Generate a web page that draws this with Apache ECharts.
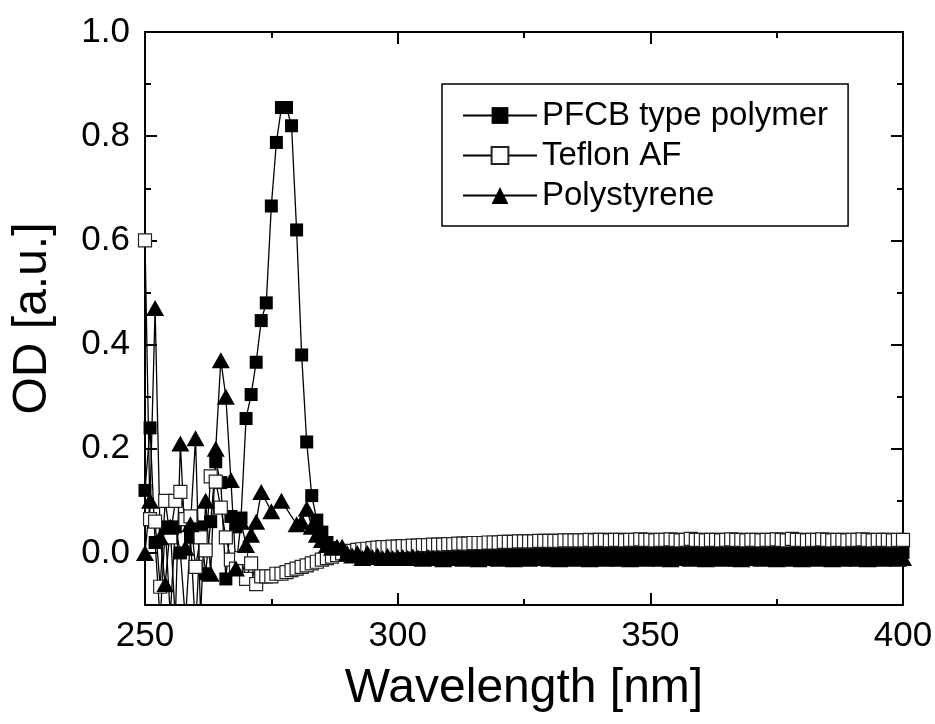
<!DOCTYPE html>
<html>
<head>
<meta charset="UTF-8">
<title>OD spectra</title>
<script src="https://cdn.jsdelivr.net/npm/echarts@6/dist/echarts.min.js"></script>
<style>
  body { margin: 0; background: #fff; }
  #chart { width: 935px; height: 724px; }
</style>
</head>
<body>
<div id="chart"></div>
<script>
// sampling grid: 250 .. 400 nm, 1 nm steps
const WL_START = 250, WL_END = 400;
const wavelengths = [];
for (let w = WL_START; w <= WL_END; w++) wavelengths.push(w);

// PFCB type polymer (250..400 nm)
const pfcbOD = [
  0.12, 0.24, 0.02, -0.13, 0.05, -0.12, 0.05, 0.00, -0.13, 0.03,
  -0.15, 0.05, -0.04, 0.06, 0.175, 0.135, -0.05, 0.07, 0.05, 0.067,
  0.258, 0.304, 0.366, 0.446, 0.48, 0.666, 0.788, 0.855, 0.855, 0.82,
  0.62, 0.38, 0.213, 0.11, 0.063, 0.04, 0.02, 0.01, 0.005, 0.0,
  -0.002, 0.0, 0.002, 0.0, 0.003, 0.002, 0.004, 0.003, 0.005, 0.004,
  0.005,
  0.005, 0.006, 0.004, 0.006, 0.005, 0.007, 0.006, 0.005, 0.007, 0.006,
  0.006, 0.007, 0.005, 0.006, 0.008, 0.006, 0.005, 0.007, 0.006, 0.005,
  0.004, 0.006, 0.005, 0.003, 0.005, 0.004, 0.006, 0.004, 0.003, 0.005,
  0.004, 0.005, 0.003, 0.004, 0.006, 0.005, 0.003, 0.004, 0.005, 0.003,
  0.004, 0.002, 0.004, 0.003, 0.005, 0.004, 0.002, 0.003, 0.004, 0.002,
  0.003, 0.004, 0.002, 0.003, 0.001, 0.003, 0.004, 0.002, 0.003, 0.002,
  0.003, 0.001, 0.003, 0.002, 0.004, 0.002, 0.001, 0.003, 0.002, 0.001,
  0.002, 0.003, 0.001, 0.002, 0.000, 0.002, 0.003, 0.001, 0.002, 0.001,
  0.002, 0.000, 0.002, 0.001, 0.003, 0.001, 0.000, 0.002, 0.001, 0.000,
  0.001, 0.002, 0.000, 0.001, 0.002, 0.000, 0.001, 0.002, 0.000, 0.001
];

// Teflon AF
const teflonOD = [
  0.60, 0.065, 0.06, -0.065, 0.10, 0.03, 0.10, 0.117, 0.065, 0.07,
  -0.027, 0.03, 0.005, 0.147, 0.137, 0.087, 0.03, -0.013, -0.03, -0.01,
  -0.05, -0.02, -0.06, -0.045, -0.045, -0.045, -0.04, -0.04, -0.037, -0.033,
  -0.03, -0.027, -0.024, -0.02, -0.017, -0.013, -0.01, -0.007, -0.004, -0.001,
  0.002, 0.004, 0.006, 0.007, 0.008, 0.009, 0.010, 0.011, 0.011, 0.012,
  0.012,
  0.013, 0.013, 0.014, 0.014, 0.015, 0.015, 0.016, 0.016, 0.016, 0.017,
  0.017, 0.018, 0.018, 0.018, 0.019, 0.019, 0.019, 0.020, 0.020, 0.020,
  0.021, 0.021, 0.021, 0.022, 0.022, 0.022, 0.022, 0.023, 0.023, 0.023,
  0.023, 0.023, 0.024, 0.024, 0.024, 0.024, 0.024, 0.025, 0.024, 0.025,
  0.025, 0.024, 0.025, 0.025, 0.024, 0.025, 0.025, 0.026, 0.025, 0.025,
  0.024, 0.025, 0.025, 0.026, 0.025, 0.024, 0.025, 0.027, 0.025, 0.025,
  0.024, 0.025, 0.025, 0.024, 0.025, 0.026, 0.025, 0.025, 0.024, 0.025,
  0.025, 0.024, 0.025, 0.025, 0.026, 0.025, 0.024, 0.027, 0.025, 0.025,
  0.024, 0.025, 0.025, 0.026, 0.025, 0.024, 0.025, 0.025, 0.024, 0.025,
  0.025, 0.026, 0.025, 0.024, 0.025, 0.025, 0.025, 0.024, 0.025, 0.025
];

// Polystyrene (null = no sample at that wavelength)
const polyOD = [
  0.0, 0.10, 0.47, 0.03, -0.06, 0.05, -0.13, 0.21, 0.01, 0.055,
  0.22, -0.12, 0.10, -0.04, 0.20, 0.37, 0.30, 0.14, -0.03, 0.06,
  0.015, 0.035, 0.06, 0.117, null, 0.08, null, 0.10, null, null,
  0.055, 0.06, 0.085, 0.05, 0.035, 0.025, 0.015, 0.01, 0.012, 0.012,
  0.0, -0.005, 0.0, -0.01, 0.0, -0.008, -0.005, -0.01, -0.006, -0.01,
  -0.008,
  -0.008, -0.010, -0.007, -0.009, -0.011, -0.008, -0.010, -0.009, -0.012, -0.009,
  -0.010, -0.008, -0.011, -0.009, -0.010, -0.012, -0.009, -0.010, -0.008, -0.011,
  -0.009, -0.010, -0.012, -0.010, -0.009, -0.011, -0.010, -0.008, -0.010, -0.011,
  -0.010, -0.012, -0.009, -0.010, -0.011, -0.009, -0.010, -0.012, -0.010, -0.009,
  -0.011, -0.010, -0.009, -0.011, -0.010, -0.012, -0.010, -0.009, -0.011, -0.010,
  -0.009, -0.011, -0.010, -0.012, -0.010, -0.009, -0.010, -0.011, -0.009, -0.010,
  -0.012, -0.010, -0.009, -0.011, -0.010, -0.009, -0.011, -0.012, -0.010, -0.009,
  -0.010, -0.011, -0.009, -0.010, -0.012, -0.010, -0.009, -0.011, -0.010, -0.012,
  -0.009, -0.010, -0.011, -0.010, -0.009, -0.012, -0.010, -0.011, -0.009, -0.010,
  -0.011, -0.010, -0.012, -0.009, -0.010, -0.011, -0.010, -0.009, -0.011, -0.010
];

const FONT = "'Liberation Sans', Arial, sans-serif";
const pairs = vals => wavelengths.map((w, i) => [w, vals[i]]);

const tickLine = { color: '#000', width: 2 };
const axisLine = { show: true, onZero: false, lineStyle: { color: '#000', width: 2 } };

const chart = echarts.init(document.getElementById('chart'));
chart.setOption({
  animation: false,
  backgroundColor: '#fff',
  grid: { left: 145, right: 32, top: 32, bottom: 119, outerBoundsMode: 'none' },
  legend: {
    left: 442, top: 84,
    orient: 'vertical',
    itemWidth: 74, itemHeight: 21, itemGap: 7,
    padding: [15, 20, 14, 20],
    borderColor: '#000', borderWidth: 1.5,
    textStyle: { fontSize: 33, color: '#000', fontFamily: FONT },
    data: ['PFCB type polymer', 'Teflon AF', 'Polystyrene']
  },
  xAxis: [
    {
      type: 'value', position: 'bottom', min: 250, max: 400, interval: 50,
      axisLine,
      axisTick: { inside: true, length: 12, lineStyle: tickLine },
      minorTick: { show: true, splitNumber: 2, length: 6, lineStyle: tickLine },
      splitLine: { show: false },
      axisLabel: { fontSize: 35, color: '#000', fontFamily: FONT, margin: 14 },
      name: 'Wavelength [nm]', nameLocation: 'middle', nameGap: 60,
      nameTextStyle: { fontSize: 48, color: '#000', fontFamily: FONT }
    },
    {
      type: 'value', position: 'top', min: 250, max: 400, interval: 50,
      axisLine,
      axisTick: { inside: true, length: 12, lineStyle: tickLine },
      minorTick: { show: true, splitNumber: 2, length: 6, lineStyle: tickLine },
      splitLine: { show: false },
      axisLabel: { show: false }
    }
  ],
  yAxis: [
    {
      type: 'value', position: 'left', min: -0.1, max: 1.0, splitNumber: 5,
      axisLine,
      axisTick: { inside: true, length: 12, lineStyle: tickLine },
      splitLine: { show: false },
      axisLabel: { fontSize: 35, color: '#000', fontFamily: FONT, margin: 15,
                   showMinLabel: false, formatter: v => v.toFixed(1) },
      name: 'OD [a.u.]', nameLocation: 'middle', nameGap: 88,
      nameTextStyle: { fontSize: 48, color: '#000', fontFamily: FONT }
    },
    {
      type: 'value', position: 'left', min: -0.1, max: 1.0, interval: 0.1,
      axisLine: { show: false },
      axisTick: { inside: true, length: 6, lineStyle: tickLine },
      splitLine: { show: false },
      axisLabel: { show: false }
    },
    {
      type: 'value', position: 'right', min: -0.1, max: 1.0, splitNumber: 5,
      axisLine,
      axisTick: { inside: true, length: 12, lineStyle: tickLine },
      splitLine: { show: false },
      axisLabel: { show: false }
    },
    {
      type: 'value', position: 'right', min: -0.1, max: 1.0, interval: 0.1,
      axisLine: { show: false },
      axisTick: { inside: true, length: 6, lineStyle: tickLine },
      splitLine: { show: false },
      axisLabel: { show: false }
    }
  ],
  series: [
    {
      name: 'PFCB type polymer', type: 'line', data: pairs(pfcbOD),
      symbol: 'rect', symbolSize: 13, connectNulls: true,
      lineStyle: { color: '#000', width: 1.3 },
      itemStyle: { color: '#000' }
    },
    {
      name: 'Teflon AF', type: 'line', data: pairs(teflonOD),
      symbol: 'rect', symbolSize: 13, connectNulls: true,
      lineStyle: { color: '#000', width: 1.3 },
      itemStyle: { color: '#fff', borderColor: '#222', borderWidth: 1.2 }
    },
    {
      name: 'Polystyrene', type: 'line', data: pairs(polyOD),
      symbol: 'triangle', symbolSize: [18, 16], connectNulls: true,
      lineStyle: { color: '#000', width: 1.3 },
      itemStyle: { color: '#000' }
    }
  ]
});
</script>
</body>
</html>
